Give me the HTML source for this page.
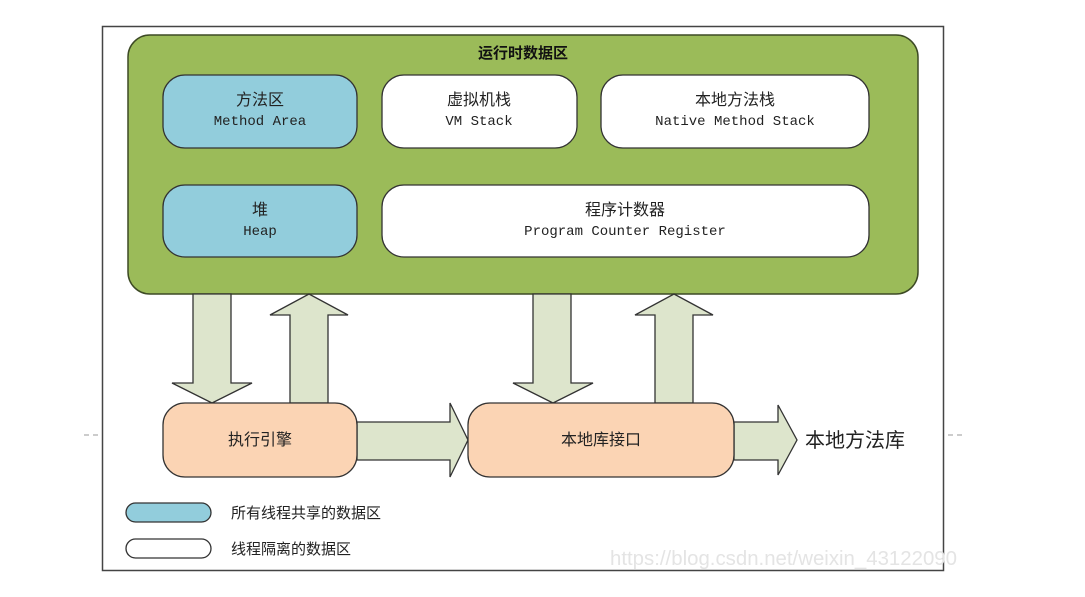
<!DOCTYPE html>
<html><head><meta charset="utf-8"><style>
html,body{margin:0;padding:0;background:#fff;}
svg{display:block;}
text{font-family:"Liberation Sans","Noto Sans CJK SC",sans-serif;}
.m{font-family:"Liberation Mono","Noto Sans CJK SC",monospace;}
</style></head><body>
<svg width="1085" height="597" viewBox="0 0 1085 597" xmlns="http://www.w3.org/2000/svg">
<rect x="102.5" y="26.5" width="841" height="544" fill="#fff" stroke="#444" stroke-width="1.5"/>
<line x1="84" y1="435" x2="100" y2="435" stroke="#999" stroke-dasharray="5,4"/>
<line x1="948" y1="435" x2="966" y2="435" stroke="#999" stroke-dasharray="5,4"/>
<rect x="128" y="35" width="790" height="259" rx="22" fill="#9bbb59" stroke="#3d4a25" stroke-width="1.5"/>
<text x="523" y="58" font-size="15" font-weight="bold" text-anchor="middle" fill="#111">运行时数据区</text>
<g stroke="#333" stroke-width="1.3">
<rect x="163" y="75" width="194" height="73" rx="22" fill="#92cddc"/>
<rect x="382" y="75" width="195" height="73" rx="22" fill="#fff"/>
<rect x="601" y="75" width="268" height="73" rx="22" fill="#fff"/>
<rect x="163" y="185" width="194" height="72" rx="22" fill="#92cddc"/>
<rect x="382" y="185" width="487" height="72" rx="22" fill="#fff"/>
</g>
<g font-size="16" text-anchor="middle" fill="#222">
<text x="260" y="105">方法区</text><text class="m" x="260" y="125" font-size="14">Method Area</text>
<text x="479" y="105">虚拟机栈</text><text class="m" x="479" y="125" font-size="14">VM Stack</text>
<text x="735" y="105">本地方法栈</text><text class="m" x="735" y="125" font-size="14">Native Method Stack</text>
<text x="260" y="215">堆</text><text class="m" x="260" y="235" font-size="14">Heap</text>
<text x="625" y="215">程序计数器</text><text class="m" x="625" y="235" font-size="14">Program Counter Register</text>
</g>
<g fill="#dde5cc" stroke="#333" stroke-width="1.3">
<polygon points="193,294 231,294 231,383 252,383 212,403 172,383 193,383"/>
<polygon points="290,403 328,403 328,315 348,315 309,294 270,315 290,315"/>
<polygon points="533,294 571,294 571,383 593,383 553,403 513,383 533,383"/>
<polygon points="655,403 693,403 693,315 713,315 674,294 635,315 655,315"/>
<polygon points="357,422 450,422 450,403 468,440 450,477 450,460 357,460"/>
<polygon points="734,422 778,422 778,405 797,440 778,475 778,460 734,460"/>
</g>
<g stroke="#333" stroke-width="1.3" fill="#fbd4b4">
<rect x="163" y="403" width="194" height="74" rx="22"/>
<rect x="468" y="403" width="266" height="74" rx="22"/>
</g>
<text x="260" y="445" font-size="16" text-anchor="middle" fill="#222">执行引擎</text>
<text x="601" y="445" font-size="16" text-anchor="middle" fill="#222">本地库接口</text>
<text x="805" y="447" font-size="20" fill="#222">本地方法库</text>
<rect x="126" y="503" width="85" height="19" rx="9.5" fill="#92cddc" stroke="#333" stroke-width="1.3"/>
<rect x="126" y="539" width="85" height="19" rx="9.5" fill="#fff" stroke="#333" stroke-width="1.3"/>
<text x="231" y="518" font-size="15" fill="#222">所有线程共享的数据区</text>
<text x="231" y="554" font-size="15" fill="#222">线程隔离的数据区</text>
<text x="610" y="565" font-size="20" fill="#e4e4e4" textLength="347" lengthAdjust="spacingAndGlyphs">https://blog.csdn.net/weixin_43122090</text>
</svg>
</body></html>
